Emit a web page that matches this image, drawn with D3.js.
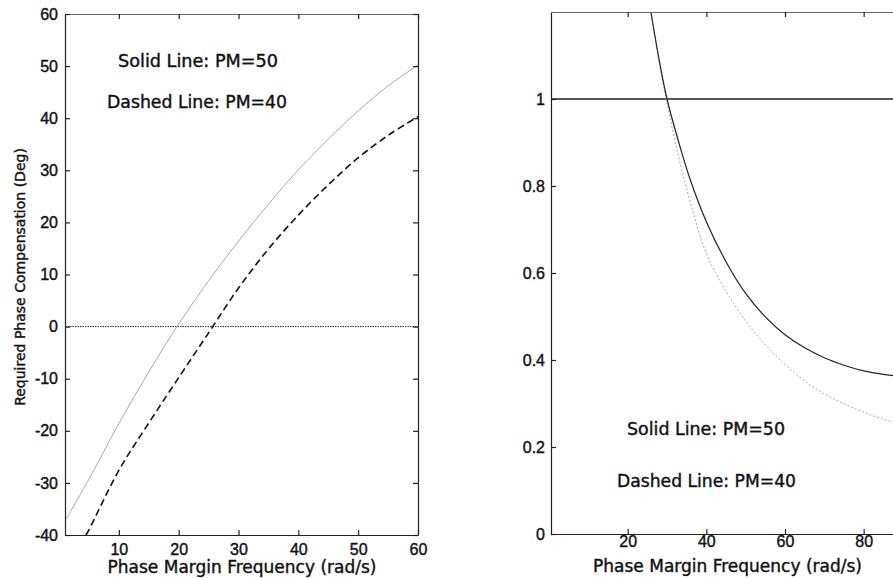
<!DOCTYPE html>
<html>
<head>
<meta charset="utf-8">
<script src="https://cdn.jsdelivr.net/npm/d3@7"></script>
<style>
  body { margin: 0; background: #fff; }
  svg { display: block; font-family: "DejaVu Sans", sans-serif; }
  text { fill: #111; stroke: #111; stroke-width: 0.4; }
  .tick text { font-size: 16px; }
  .axisLine path, .axisLine line { stroke: #222; stroke-width: 1.2; }
</style>
</head>
<body>
<svg id="chart" width="893" height="578"></svg>
<script>
"use strict";

// left panel: required phase compensation vs phase margin frequency
var leftFreq50 = [1, 5, 10, 15, 20, 25, 30, 35, 40, 45, 50, 55, 60];
var leftPm50 = [-37.3, -29.3, -18.6, -8.7, 0.5, 8.8, 16.4, 23.5, 30.1, 36.0, 41.4, 46.2, 50.2];
var leftFreq40 = [4.5, 5, 10, 15, 20, 25, 30, 35, 40, 45, 50, 55, 60];
var leftPm40 = [-40, -39, -27.6, -18.5, -9.8, -1.2, 7.4, 14.9, 21.4, 27.2, 32.4, 36.7, 40.3];
var leftXTicks = [10, 20, 30, 40, 50, 60];
var leftYTicks = [-40, -30, -20, -10, 0, 10, 20, 30, 40, 50, 60];

// right panel
var rightFreq = [25.9, 28, 30, 33, 36, 40, 45, 50, 55, 60, 65, 70, 75, 80, 85, 90];
var rightPm50 = [1.2, 1.09, 1.0, 0.9, 0.812, 0.718, 0.626, 0.553, 0.499, 0.458, 0.428, 0.405, 0.388, 0.375, 0.367, 0.362];
var rightPm40 = [1.2, 1.085, 0.99, 0.865, 0.76, 0.645, 0.558, 0.49, 0.435, 0.39, 0.352, 0.322, 0.299, 0.28, 0.264, 0.25];
var rightXTicks = [20, 40, 60, 80];
var rightYTicks = [0, 0.2, 0.4, 0.6, 0.8, 1];

var svg = d3.select("#chart");

function zip(xs, ys) {
  return xs.map(function(x, i) { return [x, ys[i]]; });
}

// plain hyphen for negatives, like the original plot
var plainNum = function(d) { return String(d); };

function drawFrame(g, x, y, opts) {
  var x0 = x.range()[0], x1 = x.range()[1], y0 = y.range()[0], y1 = y.range()[1];

  g.append("g").attr("class", "axisLine")
    .attr("transform", "translate(0," + y0 + ")")
    .call(d3.axisBottom(x).tickValues(opts.xTicks).tickSizeInner(-5).tickSizeOuter(0).tickPadding(opts.xPad).tickFormat(plainNum));
  g.append("g").attr("class", "axisLine")
    .attr("transform", "translate(0," + y1 + ")")
    .call(d3.axisTop(x).tickValues(opts.xTicks).tickSizeInner(-5).tickSizeOuter(0).tickFormat(""))
    .select(".domain").style("stroke", "#666");
  g.append("g").attr("class", "axisLine")
    .attr("transform", "translate(" + x0 + ",0)")
    .call(d3.axisLeft(y).tickValues(opts.yTicks).tickSizeInner(-5).tickSizeOuter(0).tickPadding(opts.yPad).tickFormat(plainNum));
  g.append("g").attr("class", "axisLine")
    .attr("transform", "translate(" + x1 + ",0)")
    .call(d3.axisRight(y).tickValues(opts.yTicks).tickSizeInner(-5).tickSizeOuter(0).tickFormat(""));
}

function addText(g, str, x, y, size, len) {
  g.append("text")
    .attr("x", x).attr("y", y)
    .attr("font-size", size)
    .attr("textLength", len)
    .attr("lengthAdjust", "spacingAndGlyphs")
    .text(str);
}

// ---- left plot
var lx = d3.scaleLinear().domain([1, 60]).range([65, 418]);
var ly = d3.scaleLinear().domain([-40, 60]).range([535, 14]);
var left = svg.append("g");

left.append("clipPath").attr("id", "clipL").append("rect")
  .attr("x", 65).attr("y", 14).attr("width", 353).attr("height", 521);

var lline = d3.line().x(function(d) { return lx(d[0]); }).y(function(d) { return ly(d[1]); }).curve(d3.curveCatmullRom);

left.append("line")
  .attr("x1", lx(1)).attr("x2", lx(60)).attr("y1", ly(0)).attr("y2", ly(0))
  .attr("stroke", "#222").attr("stroke-width", 1).attr("stroke-dasharray", "1.5,1");

left.append("path").datum(zip(leftFreq50, leftPm50))
  .attr("clip-path", "url(#clipL)")
  .attr("d", lline).attr("fill", "none").attr("stroke", "#a8a8a8").attr("stroke-width", 1);
left.append("path").datum(zip(leftFreq40, leftPm40))
  .attr("clip-path", "url(#clipL)")
  .attr("d", lline).attr("fill", "none").attr("stroke", "#111").attr("stroke-width", 1.6)
  .attr("stroke-dasharray", "7,4");

drawFrame(left, lx, ly, { xTicks: leftXTicks, yTicks: leftYTicks, xPad: 9, yPad: 7 });

addText(left, "Solid Line: PM=50", 118, 67, 17, 160);
addText(left, "Dashed Line: PM=40", 107, 108, 17, 180);
left.append("text")
  .attr("text-anchor", "middle").attr("x", 242).attr("y", 573)
  .attr("font-size", 17)
  .text("Phase Margin Frequency (rad/s)");
left.append("text")
  .attr("text-anchor", "middle")
  .attr("transform", "translate(25,277) rotate(-90)")
  .attr("font-size", 14)
  .text("Required Phase Compensation (Deg)");

// ---- right plot (runs off the page on the right, as in the scan)
var rx = d3.scaleLinear().domain([0.5, 100]).range([551, 942.3]);
var ry = d3.scaleLinear().domain([0, 1.2]).range([534, 12]);
var right = svg.append("g");

right.append("clipPath").attr("id", "clipR").append("rect")
  .attr("x", 551).attr("y", 12).attr("width", 392).attr("height", 522);

var rline = d3.line().x(function(d) { return rx(d[0]); }).y(function(d) { return ry(d[1]); }).curve(d3.curveCatmullRom);

right.append("line")
  .attr("x1", rx(0.5)).attr("x2", rx(100)).attr("y1", ry(1)).attr("y2", ry(1))
  .attr("stroke", "#222").attr("stroke-width", 1.4);

right.append("path").datum(zip(rightFreq, rightPm40))
  .attr("clip-path", "url(#clipR)")
  .attr("d", rline).attr("fill", "none").attr("stroke", "#aaa").attr("stroke-width", 1)
  .attr("stroke-dasharray", "2,2");
right.append("path").datum(zip(rightFreq, rightPm50))
  .attr("clip-path", "url(#clipR)")
  .attr("d", rline).attr("fill", "none").attr("stroke", "#222").attr("stroke-width", 1.2);

drawFrame(right, rx, ry, { xTicks: rightXTicks, yTicks: rightYTicks, xPad: 2, yPad: 6 });

addText(right, "Solid Line: PM=50", 627, 435, 17, 158);
addText(right, "Dashed Line: PM=40", 617, 487, 17, 179);
right.append("text")
  .attr("text-anchor", "middle").attr("x", 727.5).attr("y", 572)
  .attr("font-size", 17)
  .text("Phase Margin Frequency (rad/s)");
</script>
</body>
</html>
